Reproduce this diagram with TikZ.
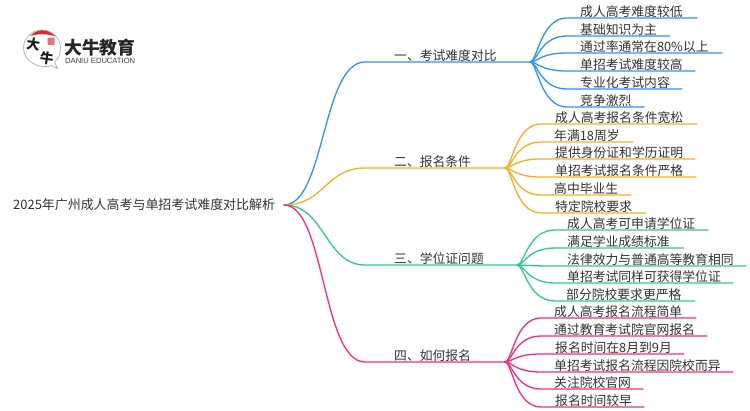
\documentclass[tikz,border=0pt]{standalone}
\usepackage{fontspec}
\setmainfont{Noto Sans CJK SC}
\newfontfamily\latinlogo{Liberation Sans}
\usetikzlibrary{calc}
\definecolor{txt}{HTML}{333333}
\definecolor{cblue}{HTML}{2E93FA}
\definecolor{corange}{HTML}{FDAE1E}
\definecolor{cgreen}{HTML}{2FCB8B}
\definecolor{cpink}{HTML}{FC2A7C}
\definecolor{logored}{HTML}{E0252B}
\tikzset{
  lab/.style={anchor=west,inner sep=0pt,text=txt,font=\fontsize{12.8}{14}\selectfont},
  conn/.style={line width=1.3pt,line cap=round},
  logochar/.style={inner sep=0pt,text=black!90,rotate=-8,font=\fontsize{13.5}{14}\selectfont\bfseries},
}
% name, colour, hub, reach x, line y, end x, text x, text
\newcommand{\mmleaf}[8]{
  \coordinate (#1r) at (#4,#5);
  \coordinate (#1e) at (#6,#5);
  \node[lab] (#1) at (#7,#5-6) {#8};
  \draw[conn,#2] (#3) .. controls ($(#3)!0.2!(#3 -| #1r)$) and ($(#1r)!0.72!(#3 |- #1r)$) .. (#1r) -- (#1e);
}
\begin{document}
\begin{tikzpicture}[x=1pt,y=-1pt]
\path[use as bounding box,fill=white] (0,0) rectangle (750,410);

% logo
\fill[logored] (30,36) .. controls (35,31.5) and (39,30) .. (42.5,30) .. controls (47,30) and (52,32) .. (55.5,36.5) .. controls (47,33.5) and (38,33.5) .. (30,36) -- cycle;
\draw[gray!60,line width=0.7pt] (52,65.5) .. controls (37,70) and (23.5,60) .. (23.5,48) .. controls (23.5,38) and (32,30) .. (42,30) .. controls (52,30) and (60.5,38) .. (60.5,48) .. controls (60.5,55) and (58,59) .. (54.5,62) -- (57.5,68.5) -- cycle;
\fill[logored!65,rounded corners=1pt] (47.5,37.5) rectangle (54.5,45);
\node[logochar] (logoa) at (33.2,44.2) {大};
\node[logochar] (logob) at (46.8,58.2) {牛};
\node[inner sep=0pt,anchor=west,text=black!85,font=\fontsize{17.8}{18}\selectfont\bfseries] (logot) at (64,48) {大牛教育};
\node[inner sep=0pt,anchor=west,text=black!75,font=\latinlogo\fontsize{7.6}{8}\selectfont] (logos) at (65,60.5) {DANIU EDUCATION};

% root
\node[lab,font=\fontsize{12.95}{14}\selectfont] (root) at (13,205) {2025年广州成人高考与单招考试难度对比解析};
\coordinate (start) at (284,205);

% main branches
\coordinate (h1) at (530,62);
\coordinate (h2) at (505,168);
\coordinate (h3) at (517,265);
\coordinate (h4) at (505,362);
\node[lab] (b1) at (394,56) {一、考试难度对比};
\node[lab] (b2) at (394,162) {二、报名条件};
\node[lab] (b3) at (394,259) {三、学位证问题};
\node[lab] (b4) at (394,356) {四、如何报名};
\coordinate (m1) at (365,62);
\coordinate (m2) at (365,168);
\coordinate (m3) at (365,265);
\coordinate (m4) at (365,362);
\draw[conn,cblue] (start) .. controls (325,205) and (322,62) .. (m1) -- (h1);
\draw[conn,corange] (start) .. controls (325,205) and (325,168) .. (m2) -- (h2);
\draw[conn,cgreen] (start) .. controls (325,205) and (325,265) .. (m3) -- (h3);
\draw[conn,cpink] (start) .. controls (325,205) and (322,362) .. (m4) -- (h4);

% group 1
\mmleaf{a1}{cblue}{h1}{567}{18}{697}{580}{成人高考难度较低}
\mmleaf{a2}{cblue}{h1}{567}{36}{670}{580}{基础知识为主}
\mmleaf{a3}{cblue}{h1}{567}{53}{722}{580}{通过率通常在80\%以上}
\mmleaf{a4}{cblue}{h1}{567}{71}{695}{580}{单招考试难度较高}
\mmleaf{a5}{cblue}{h1}{567}{89}{682}{580}{专业化考试内容}
\mmleaf{a6}{cblue}{h1}{567}{107}{644}{580}{竞争激烈}
% group 2
\mmleaf{c1}{corange}{h2}{541}{124}{697}{555}{成人高考报名条件宽松}
\mmleaf{c2}{corange}{h2}{541}{142}{633}{554}{年满18周岁}
\mmleaf{c3}{corange}{h2}{541}{159}{695}{555}{提供身份证和学历证明}
\mmleaf{c4}{corange}{h2}{541}{177}{696}{555}{单招考试报名条件严格}
\mmleaf{c5}{corange}{h2}{541}{195}{631}{554}{高中毕业生}
\mmleaf{c6}{corange}{h2}{541}{213}{646}{555}{特定院校要求}
% group 3
\mmleaf{d1}{cgreen}{h3}{555}{230}{708}{567}{成人高考可申请学位证}
\mmleaf{d2}{cgreen}{h3}{555}{248}{684}{567}{满足学业成绩标准}
\mmleaf{d3}{cgreen}{h3}{555}{266}{746}{567}{法律效力与普通高等教育相同}
\mmleaf{d4}{cgreen}{h3}{555}{283}{733}{567}{单招考试同样可获得学位证}
\mmleaf{d5}{cgreen}{h3}{555}{301}{695}{566}{部分院校要求更严格}
% group 4
\mmleaf{e1}{cpink}{h4}{541}{318}{696}{554}{成人高考报名流程简单}
\mmleaf{e2}{cpink}{h4}{541}{336}{707}{554}{通过教育考试院官网报名}
\mmleaf{e3}{cpink}{h4}{541}{354}{684}{555}{报名时间在8月到9月}
\mmleaf{e4}{cpink}{h4}{541}{372}{733}{554}{单招考试报名流程因院校而异}
\mmleaf{e5}{cpink}{h4}{541}{389}{643}{554}{关注院校官网}
\mmleaf{e6}{cpink}{h4}{541}{407}{644}{555}{报名时间较早}
\end{tikzpicture}
\end{document}
